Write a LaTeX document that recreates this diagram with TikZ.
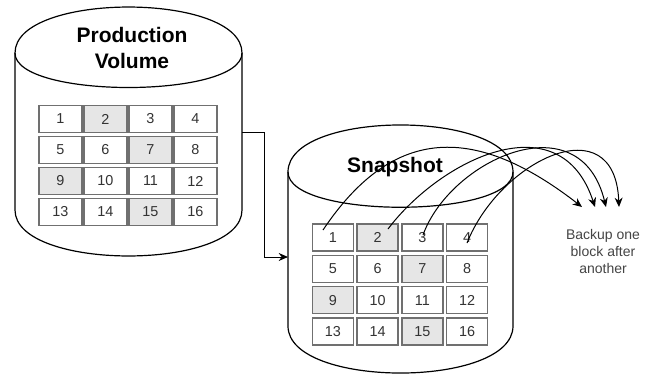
\documentclass[tikz,border=0pt]{standalone}
\usepackage{fontspec}
\setmainfont{Liberation Sans}
\usetikzlibrary{arrows.meta}
\definecolor{cellgray}{HTML}{E6E6E6}
\definecolor{cellborder}{HTML}{707070}
\definecolor{numtxt}{HTML}{333333}
\definecolor{notetxt}{HTML}{444444}
\tikzset{
  cyl/.style={draw=black, line width=0.9pt, fill=white},
  cellbox/.style={draw=cellborder, line width=1.2pt, fill=white,
    minimum height=20.25pt, inner sep=0pt, text=numtxt,
    font=\fontsize{10.8}{12}\selectfont},
  title/.style={font=\fontsize{15.75}{20}\selectfont\bfseries, align=center, inner sep=0pt},
  note/.style={font=\fontsize{10.5}{12.75}\selectfont, text=notetxt, align=center, inner sep=0pt},
  conn/.style={draw=black, line width=0.75pt, -{Stealth[length=7pt,width=6pt]}},
}
\begin{document}
\begin{tikzpicture}[x=0.75pt,y=-0.75pt]
\useasboundingbox (0,0) rectangle (651,376);
% Production cylinder
\path[cyl] (15,53) .. controls (15,-8.3) and (242,-8.3) .. (242,53)
  -- (242,210) .. controls (242,271.3) and (15,271.3) .. (15,210) -- cycle;
\draw[line width=0.9pt] (15,53) .. controls (15,99) and (242,99) .. (242,53);
\node[title] (ptitle) at (132,48) {Production\\Volume};
% Snapshot cylinder
\path[cyl] (288,172) .. controls (288,109.3) and (513,109.3) .. (513,172)
  -- (513,326) .. controls (513,388.7) and (288,388.7) .. (288,326) -- cycle;
\draw[line width=0.9pt] (288,172) .. controls (288,219) and (513,219) .. (513,172);
\node[title] (stitle) at (395,167) {Snapshot};
% cells
\foreach \n/\f [count=\i from 0] in {1/white,2/cellgray,3/white,4/white,5/white,6/white,7/cellgray,8/white,9/cellgray,10/white,11/white,12/white,13/white,14/white,15/cellgray,16/white} {
  \pgfmathtruncatemacro\col{mod(\i,4)}
  \pgfmathtruncatemacro\row{div(\i,4)}
  \node[cellbox, fill=\f, minimum width=32.25pt] (p\n) at ({60.5+45*\col},{119+31*\row}) {\n};
  \node[cellbox, fill=\f, minimum width=30.75pt] (s\n) at ({333+44.7*\col},{237.5+31.3*\row}) {\n};
}
% connector production -> snapshot
\coordinate (pout) at (242,132);
\coordinate (sin) at (288,257);
\draw[conn] (pout) -- ++(22,0) |- (sin);
% backup curves
\coordinate (a1) at (323,230);
\coordinate (a2) at (388,229);
\coordinate (a3) at (423,235);
\coordinate (a4) at (467,243);
\coordinate (t1) at (582,207);
\coordinate (t2) at (595,207);
\coordinate (t3) at (606,207);
\coordinate (t4) at (619,207);
\draw[conn] (a1) .. controls (390,130) and (470,120) .. (t1);
\draw[conn] (a2) .. controls (440,160) and (560,100) .. (t2);
\draw[conn] (a3) .. controls (450,160) and (580,100) .. (t3);
\draw[conn] (a4) .. controls (500,160) and (615,105) .. (t4);
\node[note] (note) at (603,251) {Backup one\\block after\\another};
\end{tikzpicture}
\end{document}
